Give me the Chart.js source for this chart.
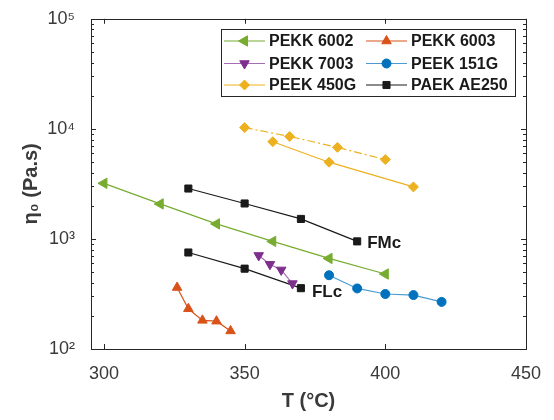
<!DOCTYPE html>
<html lang="en">
<head>
<meta charset="UTF-8">
<title>Viscosidade x temperatura</title>
<style>
  html, body { margin: 0; padding: 0; background: #fff; }
  #wrap { width: 554px; height: 420px; }
</style>
</head>
<body>
<div id="wrap"><canvas id="grafico" width="554" height="420"></canvas></div>

<script src="https://cdn.jsdelivr.net/npm/chart.js"></script>
<script>
  // valores (T em °C, eta0 em Pa.s)
  const t6002 = [300, 320, 340, 360, 380, 400];
  const eta6002 = [3200, 2080, 1370, 950, 665, 480];

  const t6003 = [326, 330, 335, 340, 345];
  const eta6003 = [362, 232, 182, 179, 146];

  const t7003 = [355, 359, 363, 367];
  const eta7003 = [708, 588, 523, 393];

  const t151G = [380, 390, 400, 410, 420];
  const eta151G = [468, 355, 316, 309, 268];

  const t450G = [360, 380, 410];
  const eta450G = [7640, 4980, 2970];
  const t450Gb = [350, 366, 383, 400];
  const eta450Gb = [10270, 8530, 6790, 5260];

  const tFMc = [330, 350, 370, 390];
  const etaFMc = [2870, 2100, 1520, 950];
  const tFLc = [330, 350, 370];
  const etaFLc = [753, 537, 357];

  const ticksX = [300, 350, 400, 450];
  const ticksY = [100, 1000, 10000, 100000];
  const labelsY = ['10²', '10³', '10⁴', '10⁵'];

  const nomesLegenda = ['PEKK 6002', 'PEKK 6003', 'PEKK 7003', 'PEEK 151G', 'PEEK 450G', 'PAEK AE250'];

  function pares(xs, ys) {
    return xs.map((x, i) => ({ x: x, y: ys[i] }));
  }

  function serie(label, xs, ys, cor, corLinha, estilo, rot, raio, extra) {
    return Object.assign({
      label: label,
      data: pares(xs, ys),
      showLine: true,
      borderColor: corLinha,
      borderWidth: 1.2,
      backgroundColor: cor,
      pointBackgroundColor: cor,
      pointBorderColor: cor,
      pointBorderWidth: 1,
      pointStyle: estilo,
      pointRotation: rot,
      pointRadius: raio
    }, extra || {});
  }

  const datasets = [
    serie('PEKK 6002', t6002, eta6002, '#77AC30', '#77AC30', 'triangle', -90, 6),
    serie('PEKK 6003', t6003, eta6003, '#D95319', '#D95319', 'triangle', 0, 5.5),
    serie('PEKK 7003', t7003, eta7003, '#7E2F8E', '#A66DB5', 'triangle', 180, 5.5),
    serie('PEEK 151G', t151G, eta151G, '#0072BD', '#4A9BD3', 'circle', 0, 4.5),
    serie('PEEK 450G', t450G, eta450G, '#EDB120', '#EDB120', 'rectRot', 0, 5),
    serie('PAEK AE250', tFMc, etaFMc, '#1a1a1a', '#1a1a1a', 'rect', 0, 5),
    serie('PEEK 450G b', t450Gb, eta450Gb, '#EDB120', '#EDB120', 'rectRot', 0, 5, { borderDash: [8, 3, 2, 3] }),
    serie('PAEK AE250 FLc', tFLc, etaFLc, '#1a1a1a', '#1a1a1a', 'rect', 0, 5)
  ];

  // caixa dos eixos com marcas internas, rotulos FMc/FLc e legenda
  const moldura = {
    id: 'moldura',
    afterDraw(chart) {
      const ctx = chart.ctx;
      const a = chart.chartArea;
      const sx = chart.scales.x;
      const sy = chart.scales.y;
      ctx.save();
      ctx.strokeStyle = '#262626';
      ctx.lineWidth = 1;
      function linha(x1, y1, x2, y2) {
        ctx.beginPath(); ctx.moveTo(x1, y1); ctx.lineTo(x2, y2); ctx.stroke();
      }
      ctx.strokeRect(Math.round(a.left) + 0.5, Math.round(a.top) + 0.5,
        Math.round(a.right - a.left), Math.round(a.bottom - a.top));

      ticksX.forEach(v => {
        const px = Math.round(sx.getPixelForValue(v)) + 0.5;
        linha(px, a.bottom, px, a.bottom - 5);
        linha(px, a.top, px, a.top + 5);
      });
      for (let d = 100; d <= 100000; d *= 10) {
        for (let m = 1; m <= 9; m++) {
          const v = d * m;
          if (v > 100000) break;
          const py = Math.round(sy.getPixelForValue(v)) + 0.5;
          const len = m === 1 ? 5 : 3;
          linha(a.left, py, a.left + len, py);
          linha(a.right, py, a.right - len, py);
        }
      }

      // rotulos das curvas AE250
      ctx.fillStyle = '#1a1a1a';
      ctx.font = 'bold 17px "Liberation Sans", Arial, sans-serif';
      ctx.textBaseline = 'middle';
      ctx.textAlign = 'left';
      const ultFMc = tFMc.length - 1;
      ctx.fillText('FMc', sx.getPixelForValue(tFMc[ultFMc]) + 10, sy.getPixelForValue(etaFMc[ultFMc]) + 2);
      const ultFLc = tFLc.length - 1;
      ctx.fillText('FLc', sx.getPixelForValue(tFLc[ultFLc]) + 11, sy.getPixelForValue(etaFLc[ultFLc]) + 4);

      // legenda em duas colunas
      const box = { x: 221, y: 29, w: 294, h: 67 };
      ctx.fillStyle = '#fff';
      ctx.fillRect(box.x, box.y, box.w, box.h);
      ctx.strokeStyle = '#262626';
      ctx.lineWidth = 1;
      ctx.strokeRect(box.x + 0.5, box.y + 0.5, box.w, box.h);
      const colX = [224, 366];
      const linY = [41, 63.5, 85];
      nomesLegenda.forEach((nome, i) => {
        const ds = chart.data.datasets[i];
        const x0 = colX[i % 2];
        const y0 = linY[Math.floor(i / 2)];
        ctx.strokeStyle = ds.borderColor;
        ctx.lineWidth = ds.borderWidth;
        linha(x0, y0, x0 + 41, y0);
        ctx.fillStyle = ds.pointBackgroundColor;
        ctx.strokeStyle = ds.pointBorderColor;
        ctx.lineWidth = 1;
        Chart.helpers.drawPoint(ctx, {
          pointStyle: ds.pointStyle, rotation: ds.pointRotation,
          radius: ds.pointRadius, borderWidth: 1
        }, x0 + 20.5, y0);
        ctx.fillStyle = '#1a1a1a';
        ctx.font = 'bold 16px "Liberation Sans", Arial, sans-serif';
        ctx.fillText(nome, x0 + 45, y0 + 1);
      });
      ctx.restore();
    }
  };

  const ctx = document.getElementById('grafico').getContext('2d');
  new Chart(ctx, {
    type: 'scatter',
    data: { datasets: datasets },
    plugins: [moldura],
    options: {
      responsive: false,
      animation: false,
      devicePixelRatio: 1,
      layout: { padding: { left: 0, top: 15, right: 28, bottom: 0 } },
      plugins: {
        legend: { display: false },
        tooltip: { enabled: false }
      },
      scales: {
        x: {
          type: 'linear',
          min: 295.4,
          max: 450,
          grid: { display: false },
          border: { display: false },
          afterBuildTicks: s => { s.ticks = ticksX.map(v => ({ value: v })); },
          afterFit: s => { s.height = 71; },
          ticks: {
            padding: 6,
            color: '#3a3a3a',
            font: { family: '"Liberation Sans", Arial, sans-serif', size: 18 }
          },
          title: {
            display: true,
            text: 'T (°C)',
            color: '#3a3a3a',
            padding: { top: 0, bottom: 9 },
            font: { family: '"Liberation Sans", Arial, sans-serif', size: 20, weight: 'bold', lineHeight: 1 }
          }
        },
        y: {
          type: 'logarithmic',
          min: 100,
          max: 100000,
          grid: { display: false },
          border: { display: false },
          afterBuildTicks: s => { s.ticks = ticksY.map(v => ({ value: v })); },
          afterFit: s => { s.width = 91; },
          ticks: {
            padding: 8,
            color: '#3a3a3a',
            font: { family: '"Liberation Sans", Arial, sans-serif', size: 18 },
            callback: v => labelsY[ticksY.indexOf(v)]
          },
          title: {
            display: true,
            text: 'η₀ (Pa.s)',
            color: '#3a3a3a',
            padding: { top: 21, bottom: 0 },
            font: { family: '"Liberation Sans", Arial, sans-serif', size: 20, weight: 'bold', lineHeight: 1 }
          }
        }
      }
    }
  });
</script>
</body>
</html>
